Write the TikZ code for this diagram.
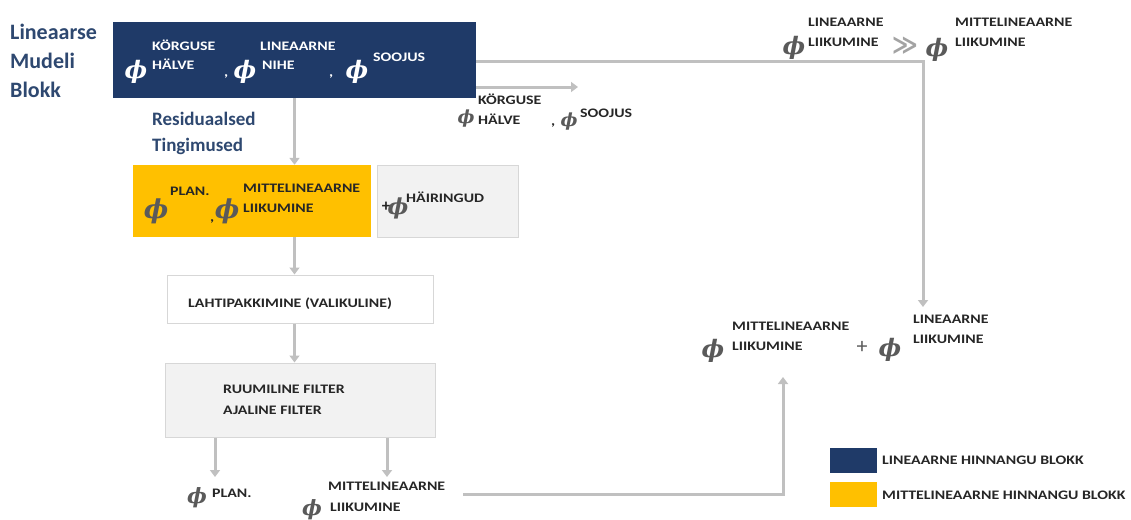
\documentclass[tikz,border=0pt]{standalone}
\usepackage{fontspec}
\setmainfont{Carlito}
\newfontfamily\labfont{Carlito}[FakeStretch=1.22]
\newfontfamily\phfont{DejaVu Serif}
\newfontfamily\symfont{DejaVu Sans}
\newcommand{\ph}{{\phfont\itshape\bfseries ϕ}}
\usetikzlibrary{arrows.meta}
\definecolor{navy}{RGB}{31,58,104}
\definecolor{gold}{RGB}{255,192,0}
\definecolor{arrgray}{RGB}{192,192,192}
\definecolor{txtblue}{RGB}{46,72,112}
\definecolor{labc}{RGB}{38,38,38}
\definecolor{phic}{RGB}{90,90,90}
\definecolor{boxgray}{RGB}{242,242,242}
\definecolor{boxline}{RGB}{215,215,215}
\tikzset{
  lbl/.style={anchor=base west, inner sep=0pt, font=\labfont\bfseries\fontsize{13}{15}\selectfont, text=labc},
  wl/.style={lbl, text=white},
  head/.style={anchor=base west, inner sep=0pt, font=\bfseries\fontsize{22}{24}\selectfont, text=txtblue},
  sub/.style={anchor=base west, inner sep=0pt, font=\bfseries\fontsize{19}{21}\selectfont, text=txtblue},
  phs/.style={inner sep=0pt, font=\fontsize{24}{24}\selectfont, text=phic},
  sph/.style={phs, font=\fontsize{18}{18}\selectfont},
  arr/.style={draw=arrgray, line width=3pt, -{Triangle[width=10pt,length=7pt]}},
  blk/.style={inner sep=0pt, minimum width=#1},
}
\begin{document}
\begin{tikzpicture}[x=1pt,y=-1pt]
\useasboundingbox (0,0) rectangle (1131,519);
% heading
\node[head] (h1) at (10,40) {Lineaarse};
\node[head] (h2) at (10,68) {Mudeli};
\node[head] (h3) at (10,97) {Blokk};
% linear model block
\node[fill=navy, blk=363pt, minimum height=76pt] (lin) at (294.5,60) {};
\node[phs, text=white] (lp1) at (136,72) {\ph};
\node[wl] (lt1) at (152,50) {KÖRGUSE};
\node[wl] (lt2) at (152,70) {HÄLVE};
\node[wl] (lc1) at (224,77) {,};
\node[phs, text=white] (lp2) at (245,72) {\ph};
\node[wl] (lt3) at (260,50) {LINEAARNE};
\node[wl] (lt4) at (262,70) {NIHE};
\node[wl] (lc2) at (329,77) {,};
\node[phs, text=white] (lp3) at (357,72) {\ph};
\node[wl] (lt5) at (373,62) {SOOJUS};
% residual
\node[sub] (r1) at (152,125) {Residuaalsed};
\node[sub] (r2) at (152,151) {Tingimused};
% side outputs
\coordinate (s1) at (578,87);
\coordinate (c1) at (923,61);
\coordinate (t1) at (923,307);
\draw[arr] (lin.east |- c1) -- (c1) -- (t1);
\draw[arr] (lin.east |- s1) -- (s1);
\node[sph] (sp1) at (466,119) {\ph};
\node[lbl] (st1) at (478,104) {KÖRGUSE};
\node[lbl] (st2) at (478,124) {HÄLVE};
\node[lbl] (sc1) at (551,125) {,};
\node[sph] (sp2) at (569,122) {\ph};
\node[lbl] (st3) at (580,117) {SOOJUS};
% top right
\node[phs] (tp1) at (794,48) {\ph};
\node[lbl] (tt1) at (808,27) {LINEAARNE};
\node[lbl] (tt2) at (808,47) {LIIKUMINE};
\node[inner sep=0pt, text=arrgray!85!black, font=\symfont\bfseries\fontsize{25}{25}\selectfont] (gg) at (905,46) {≫};
\node[phs] (tp2) at (937,50) {\ph};
\node[lbl] (tt3) at (955,27) {MITTELINEAARNE};
\node[lbl] (tt4) at (955,47) {LIIKUMINE};
% nonlinear block
\node[fill=gold, blk=238pt, minimum height=72pt] (yel) at (252,201) {};
\node[phs, font=\fontsize{26}{26}\selectfont] (yp1) at (156,211) {\ph};
\node[lbl] (yt1) at (170,195) {PLAN.};
\node[lbl] (yc1) at (210,221) {,};
\node[phs, font=\fontsize{26}{26}\selectfont] (yp2) at (227,211) {\ph};
\node[lbl] (yt2) at (243,192) {MITTELINEAARNE};
\node[lbl] (yt3) at (243,212) {LIIKUMINE};
% disturbances
\node[fill=boxgray, draw=boxline, line width=1pt, blk=141pt, minimum height=72pt] (dist) at (447.5,201) {};
\node[inner sep=0pt, text=labc, font=\bfseries\fontsize{17}{17}\selectfont] (dplus) at (386,207) {+};
\node[phs, font=\fontsize{22}{22}\selectfont] (dp) at (398,208) {\ph};
\node[lbl] (dt) at (406,202) {HÄIRINGUD};
% unpacking
\node[fill=white, draw=boxline, line width=1pt, blk=266pt, minimum height=48pt] (unp) at (300,299) {};
\node[lbl] (ut) at (188,307) {LAHTIPAKKIMINE (VALIKULINE)};
% filters
\node[fill=boxgray, draw=boxline, line width=1pt, blk=270pt, minimum height=74pt] (filt) at (300,400) {};
\node[lbl] (ft1) at (223,393) {RUUMILINE FILTER};
\node[lbl] (ft2) at (223,414) {AJALINE FILTER};
% main flow arrows
\draw[arr] (lin.south) -- (lin.south |- yel.north);
\draw[arr] (lin.south |- yel.south) -- (lin.south |- unp.north);
\draw[arr] (lin.south |- unp.south) -- (lin.south |- filt.north);
\coordinate (o1) at (215,477);
\coordinate (o2) at (387,477);
\draw[arr] (filt.south -| o1) -- (o1);
\draw[arr] (filt.south -| o2) -- (o2);
% outputs
\node[phs, font=\fontsize{21}{21}\selectfont] (op1) at (197,498) {\ph};
\node[lbl] (ot1) at (212,497) {PLAN.};
\node[phs, font=\fontsize{21}{21}\selectfont] (op2) at (312,510) {\ph};
\node[lbl] (ot2) at (328,490) {MITTELINEAARNE};
\node[lbl] (ot3) at (330,511) {LIIKUMINE};
\coordinate (b1) at (463,494);
\coordinate (b2) at (783,494);
\coordinate (b3) at (783,377);
\draw[arr] (b1) -- (b2) -- (b3);
% sum
\node[phs] (mp1) at (713,351) {\ph};
\node[lbl] (mt1) at (732,330) {MITTELINEAARNE};
\node[lbl] (mt2) at (732,350) {LIIKUMINE};
\node[inner sep=0pt, text=phic, font=\fontsize{22}{22}\selectfont] (mplus) at (862,347) {+};
\node[phs] (mp2) at (890,350) {\ph};
\node[lbl] (mt3) at (913,323) {LINEAARNE};
\node[lbl] (mt4) at (913,343) {LIIKUMINE};
% legend
\node[fill=navy, blk=47pt, minimum height=25pt] (lg1) at (853.5,460.5) {};
\node[lbl] (lgt1) at (882,464) {LINEAARNE HINNANGU BLOKK};
\node[fill=gold, blk=47pt, minimum height=25pt] (lg2) at (853.5,494.5) {};
\node[lbl] (lgt2) at (882,499) {MITTELINEAARNE HINNANGU BLOKK};
\end{tikzpicture}
\end{document}
